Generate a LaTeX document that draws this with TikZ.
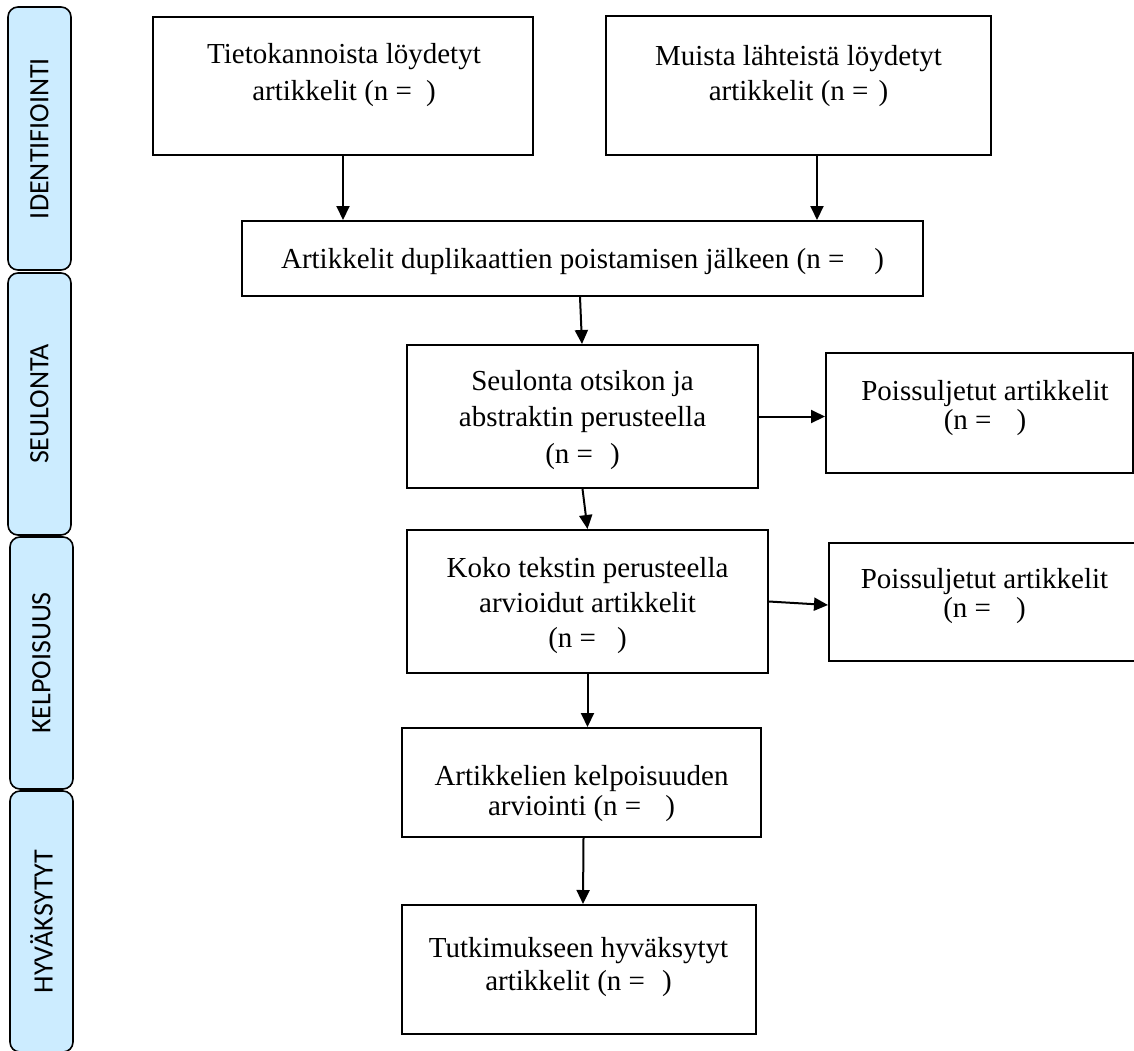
\documentclass[tikz,border=0pt]{standalone}
\usepackage{fontspec}
\setmainfont{Liberation Serif}
\newfontfamily\phasefont{Carlito}
\usetikzlibrary{arrows.meta}
\definecolor{phaseblue}{HTML}{CCECFF}

\begin{document}
\begin{tikzpicture}[x=1pt,y=-1pt,
  box/.style={draw, line width=2pt, inner sep=0pt, fill=white},
  txt/.style={align=center, inner sep=0pt, anchor=base},
  flow/.style={line width=2pt, -{Triangle[length=14pt,width=13pt]}},
  phase/.style={draw, line width=1.6pt, rounded corners=10pt, fill=phaseblue, inner sep=0pt, minimum width=63pt},
  phasetxt/.style={rotate=90, inner sep=0pt, font=\phasefont\fontsize{28}{30}\selectfont}
]
\useasboundingbox (0,0) rectangle (1134,1050);
\clip (0,0) rectangle (1134,1050);

% phase bars on the left
\node[phase, minimum height=263pt] (p1) at (39.5,138.5) {};
\node[phase, minimum height=262pt] (p2) at (39.5,404) {};
\node[phase, minimum height=252pt] (p3) at (41.5,663) {};
\node[phase, minimum height=261pt] (p4) at (41.5,921.5) {};
\node[phasetxt] (p1t) at (p1.center) {IDENTIFIOINTI};
\node[phasetxt] (p2t) at (p2.center) {SEULONTA};
\node[phasetxt] (p3t) at (p3.center) {KELPOISUUS};
\node[phasetxt] (p4t) at (p4.center) {HYVÄKSYTYT};

% flow boxes
\node[box, minimum width=380pt, minimum height=138pt] (a) at (343,86) {};
\node[box, minimum width=385pt, minimum height=139pt] (b) at (798.5,85.5) {};
\node[box, minimum width=681pt, minimum height=75pt] (c) at (582.5,258.5) {};
\node[box, minimum width=351pt, minimum height=143pt] (d) at (582.5,416.5) {};
\node[box, minimum width=307pt, minimum height=120pt] (x1) at (979.5,413) {};
\node[box, minimum width=361pt, minimum height=143pt] (e) at (587.5,601.5) {};
\node[box, minimum width=316pt, minimum height=118pt] (x2) at (987,602) {};
\node[box, minimum width=359pt, minimum height=109pt] (f) at (581.5,782.5) {};
\node[box, minimum width=354pt, minimum height=129pt] (g) at (579,969.5) {};

% box texts (positioned by the baseline of the last line)
\node[txt, font=\fontsize{29}{37}\selectfont] (at) at (344,100)
  {Tietokannoista löydetyt\\artikkelit (n =\hspace{14pt})};
\node[txt, font=\fontsize{29}{35}\selectfont] (bt) at (798.5,100)
  {Muista lähteistä löydetyt\\artikkelit (n =\hspace{10pt})};
\node[txt, font=\fontsize{29}{37}\selectfont] (ct) at (582.5,268)
  {Artikkelit duplikaattien poistamisen jälkeen (n =\hspace{30pt})};
\node[txt, font=\fontsize{29}{36.5}\selectfont] (dt) at (582.5,463)
  {Seulonta otsikon ja\\abstraktin perusteella\\(n =\hspace{17pt})};
\node[txt, font=\fontsize{29}{29}\selectfont] (x1t) at (985,429)
  {Poissuljetut artikkelit\\(n =\hspace{25pt})};
\node[txt, font=\fontsize{29}{35}\selectfont] (et) at (587.5,647)
  {Koko tekstin perusteella\\arvioidut artikkelit\\(n =\hspace{21pt})};
\node[txt, font=\fontsize{29}{29}\selectfont] (x2t) at (984.5,617)
  {Poissuljetut artikkelit\\(n =\hspace{25pt})};
\node[txt, font=\fontsize{29}{30}\selectfont] (ft) at (581.5,815)
  {Artikkelien kelpoisuuden\\arviointi (n =\hspace{24pt})};
\node[txt, font=\fontsize{29}{33}\selectfont] (gt) at (578.5,990)
  {Tutkimukseen hyväksytyt\\artikkelit (n =\hspace{17pt})};

% connectors
\draw[flow] (a.south) -- (a.south |- c.north);
\draw[flow] ([xshift=18.5pt]b.south) -- ([xshift=18.5pt]b.south |- c.north);
\draw[flow] ([xshift=-2.5pt]c.south) -- ([xshift=-0.5pt]d.north);
\draw[flow] (d.east) -- (d.east -| x1.west);
\draw[flow] (d.south) -- (e.north);
\draw[flow] (e.east) -- ([yshift=-3pt]x2.west);
\draw[flow] (e.south) -- (e.south |- f.north);
\draw[flow] ([xshift=2pt]f.south) -- ([xshift=4pt]g.north);
\end{tikzpicture}
\end{document}
